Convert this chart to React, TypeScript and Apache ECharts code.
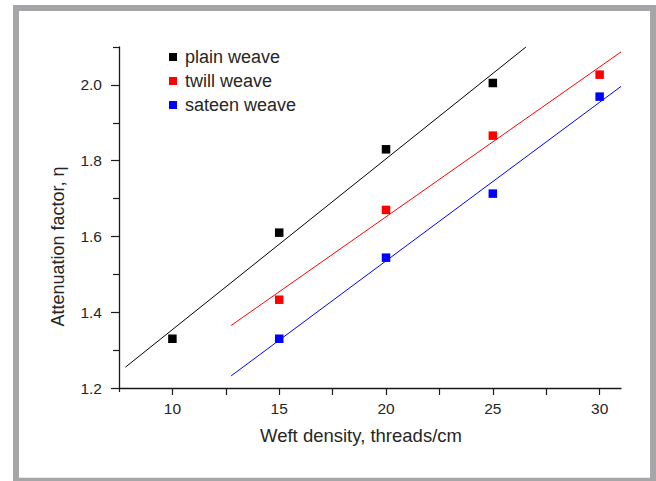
import React, { useEffect, useRef } from "react";
import * as echarts from "echarts";

// Measured data (weft density in threads/cm, attenuation factor η)
const plainX = [10, 15, 20, 25];
const plainY = [1.33, 1.61, 1.83, 2.005];
const twillX = [15, 20, 25, 30];
const twillY = [1.433, 1.67, 1.866, 2.027];
const sateenX = [15, 20, 25, 30];
const sateenY = [1.33, 1.544, 1.713, 1.969];

// Fitted lines, end points
const plainFitX = [7.8, 26.55];
const plainFitY = [1.255, 2.1];
const twillFitX = [12.75, 31];
const twillFitY = [1.365, 2.087];
const sateenFitX = [12.75, 31];
const sateenFitY = [1.232, 1.996];

// Axis ticks
const xLabels = [10, 15, 20, 25, 30];
const xTicks = [10, 12.5, 15, 17.5, 20, 22.5, 25, 27.5, 30];
const yLabels = [1.2, 1.4, 1.6, 1.8, 2.0];
const yMinorTicks = [1.3, 1.5, 1.7, 1.9, 2.1];

const zip = (xs: number[], ys: number[]) => xs.map((x, i) => [x, ys[i]]);

const FONT = '"Liberation Sans", Arial, sans-serif';
const TEXT = "#262626";
const AXIS = "#1a1a1a";

export default function App() {
  const ref = useRef<HTMLDivElement>(null);
  useEffect(() => {
    if (!ref.current) return;
    const chart = echarts.init(ref.current, undefined, { renderer: "svg" });
    const xBase = {
      type: "value",
      min: 7.5,
      max: 31,
      splitLine: { show: false },
    };
    const yBase = {
      type: "value",
      min: 1.2,
      max: 2.1,
      splitLine: { show: false },
    };
    chart.setOption({
      animation: false,
      backgroundColor: "#ffffff",
      textStyle: { fontFamily: FONT },
      graphic: [
        {
          type: "rect",
          z: -10,
          silent: true,
          shape: { x: 16, y: 8, width: 637, height: 472.7 },
          style: { fill: "none", stroke: "#a6a6a9", lineWidth: 6 },
        },
      ],
      grid: {
        left: 119,
        top: 47,
        width: 502,
        height: 341,
        containLabel: false,
        outerBoundsMode: "none",
      },
      legend: {
        orient: "vertical",
        left: 164,
        top: 43,
        itemWidth: 8,
        itemHeight: 8,
        itemGap: 6,
        icon: "rect",
        data: ["plain weave", "twill weave", "sateen weave"],
        textStyle: {
          fontFamily: FONT,
          fontSize: 18,
          lineHeight: 18,
          color: TEXT,
          padding: [0, 0, 0, 3],
        },
      },
      xAxis: [
        {
          ...xBase,
          name: "Weft density, threads/cm",
          nameLocation: "middle",
          nameGap: 38,
          nameTextStyle: {
            fontFamily: FONT,
            fontSize: 18.5,
            color: TEXT,
            padding: [0, 18, 0, 0],
          },
          axisLine: { show: true, lineStyle: { color: AXIS, width: 1.3 } },
          axisTick: {
            show: true,
            customValues: xTicks,
            length: 7,
            lineStyle: { color: AXIS, width: 1.2 },
          },
          axisLabel: {
            customValues: xLabels,
            margin: 12,
            fontFamily: FONT,
            fontSize: 15.5,
            color: TEXT,
          },
        },
        {
          ...xBase,
          position: "bottom",
          axisLine: { show: false },
          axisLabel: { show: false },
          axisTick: {
            show: true,
            customValues: [7.5],
            length: 4,
            lineStyle: { color: AXIS, width: 1.2 },
          },
        },
      ],
      yAxis: [
        {
          ...yBase,
          name: "Attenuation factor, η",
          nameLocation: "middle",
          nameGap: 52,
          nameRotate: 90,
          nameTextStyle: {
            fontFamily: FONT,
            fontSize: 18,
            color: TEXT,
            padding: [0, 58, 0, 0],
          },
          axisLine: { show: true, lineStyle: { color: AXIS, width: 1.3 } },
          axisTick: {
            show: true,
            customValues: yLabels,
            length: 8,
            lineStyle: { color: AXIS, width: 1.2 },
          },
          axisLabel: {
            customValues: yLabels,
            margin: 17,
            fontFamily: FONT,
            fontSize: 15.5,
            color: TEXT,
            formatter: (v: number) => v.toFixed(1),
          },
        },
        {
          ...yBase,
          position: "left",
          axisLine: { show: false },
          axisLabel: { show: false },
          axisTick: {
            show: true,
            customValues: yMinorTicks,
            length: 6,
            lineStyle: { color: AXIS, width: 1.2 },
          },
        },
      ],
      series: [
        {
          name: "plain weave fit",
          type: "line",
          data: zip(plainFitX, plainFitY),
          showSymbol: false,
          symbol: "none",
          silent: true,
          lineStyle: { color: "#000000", width: 1 },
          z: 1,
        },
        {
          name: "twill weave fit",
          type: "line",
          data: zip(twillFitX, twillFitY),
          showSymbol: false,
          symbol: "none",
          silent: true,
          lineStyle: { color: "#ff0000", width: 1 },
          z: 1,
        },
        {
          name: "sateen weave fit",
          type: "line",
          data: zip(sateenFitX, sateenFitY),
          showSymbol: false,
          symbol: "none",
          silent: true,
          lineStyle: { color: "#0000ff", width: 1 },
          z: 1,
        },
        {
          name: "plain weave",
          type: "scatter",
          symbol: "rect",
          symbolSize: 8.5,
          data: zip(plainX, plainY),
          itemStyle: { color: "#000000", opacity: 1 },
          z: 3,
        },
        {
          name: "twill weave",
          type: "scatter",
          symbol: "rect",
          symbolSize: 8.5,
          data: zip(twillX, twillY),
          itemStyle: { color: "#ff0000", opacity: 1 },
          z: 3,
        },
        {
          name: "sateen weave",
          type: "scatter",
          symbol: "rect",
          symbolSize: 8.5,
          data: zip(sateenX, sateenY),
          itemStyle: { color: "#0000ff", opacity: 1 },
          z: 3,
        },
      ],
    });
    return () => chart.dispose();
  }, []);
  return (
    <div
      ref={ref}
      style={{ position: "absolute", left: 0, top: 0, width: 656, height: 481 }}
    />
  );
}
